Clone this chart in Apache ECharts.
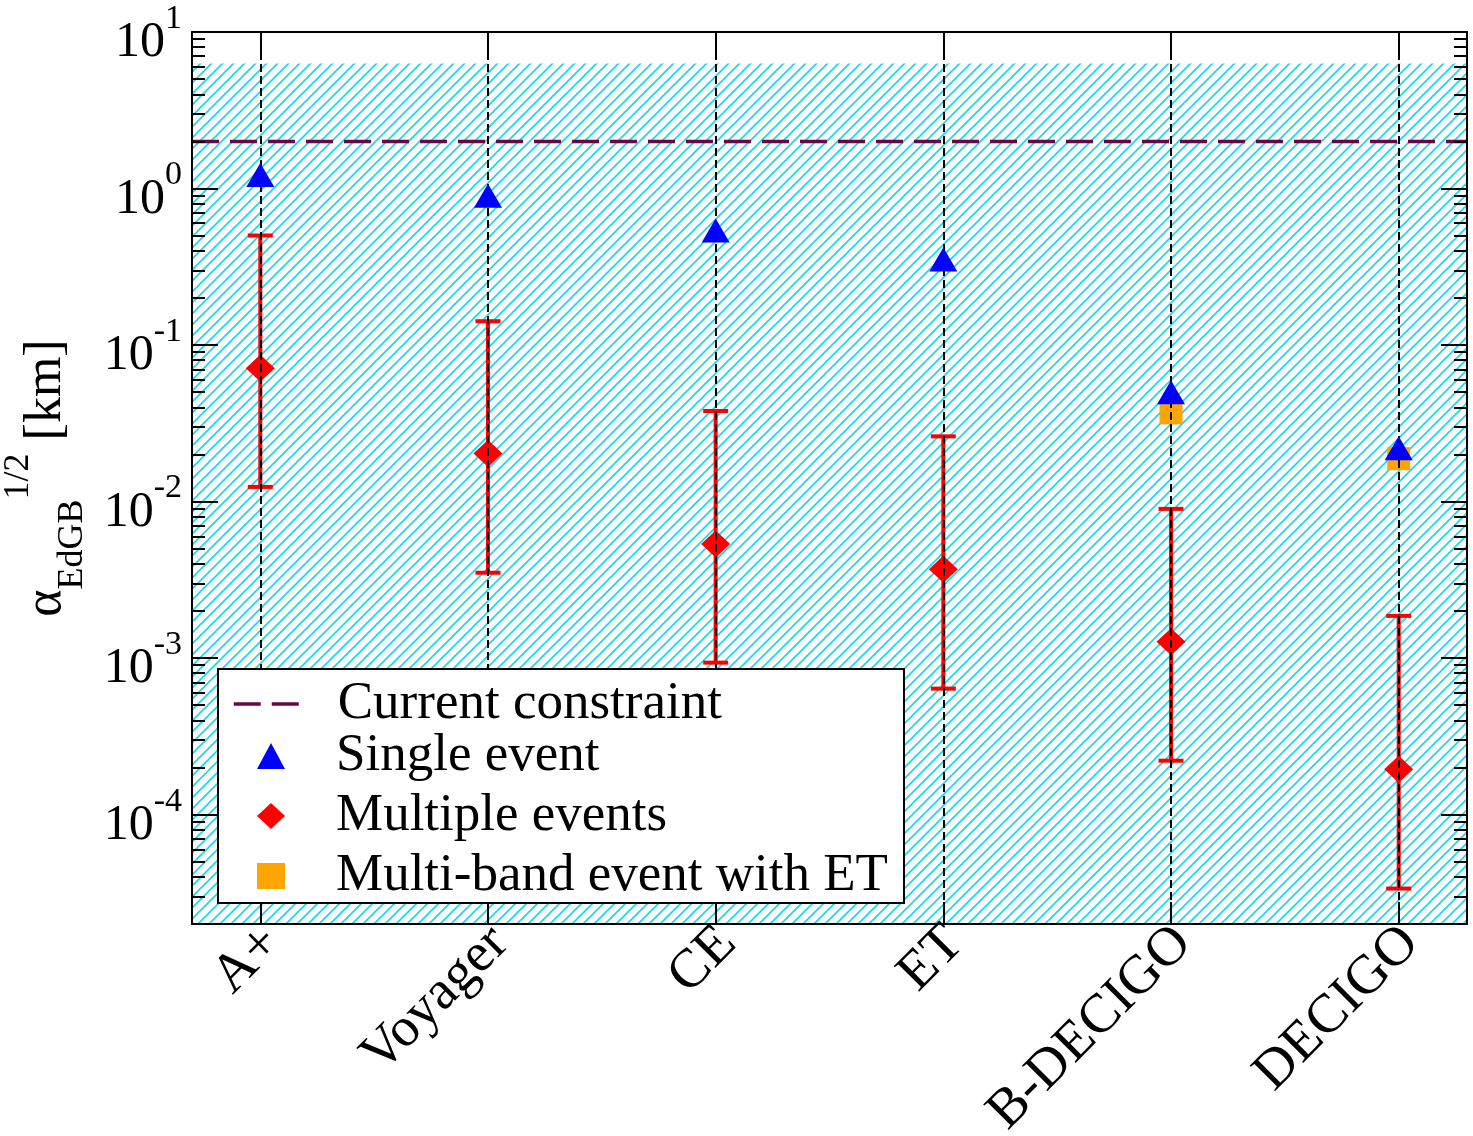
<!DOCTYPE html>
<html>
<head>
<meta charset="UTF-8">
<title>EdGB constraints</title>
<script src="https://cdn.jsdelivr.net/npm/echarts@6/dist/echarts.min.js"></script>
<style>
html, body { margin: 0; padding: 0; background: #fff; }
#chart { width: 1473px; height: 1136px; }
</style>
</head>
<body>
<div id="chart"></div>
<script>
// data
var detectors = ['A+', 'Voyager', 'CE', 'ET', 'B-DECIGO', 'DECIGO'];
var singleEvent = [1.22, 0.90, 0.54, 0.352, 0.0499, 0.0219];
var multiEvents = [0.0710, 0.0203, 0.00535, 0.00369, 0.00127, 0.000195];
var multiUpper = [0.501, 0.142, 0.0379, 0.0261, 0.00898, 0.00186];
var multiLower = [0.0124, 0.00351, 0.000935, 0.000638, 0.000221, 0.0000337];
var multiBandIdx = [4, 5];
var multiBand = [0.0369, 0.0188];
var currentConstraint = 2.0;
var hatchTop = 6.3;

var yMin = 2e-5, yMax = 10;
var xMin = -0.3, xMax = 5.3;
var catTicks = [0, 1, 2, 3, 4, 5];
var majorTicks = [1e-4, 1e-3, 1e-2, 1e-1, 1, 10];
var minorTicks = [];
for (var e = -5; e <= 0; e++) {
	for (var m = 2; m <= 9; m++) {
		var v = Number((m * Math.pow(10, e)).toPrecision(3));
		if (v >= yMin && v <= yMax) minorTicks.push(v);
	}
}

var serif = '"Liberation Serif", "DejaVu Serif", serif';
var maroon = '#670748';

function makeHatch() {
	var s = 11;
	var c = document.createElement('canvas');
	c.width = s; c.height = s;
	var g = c.getContext('2d');
	g.fillStyle = '#f9fcfc';
	g.fillRect(0, 0, s, s);
	g.strokeStyle = '#1fd6e8';
	g.lineWidth = 1.6;
	g.beginPath();
	g.moveTo(-1, s + 1); g.lineTo(s + 1, -1);
	g.moveTo(-1, 1); g.lineTo(1, -1);
	g.moveTo(s - 1, s + 1); g.lineTo(s + 1, s - 1);
	g.stroke();
	return c;
}

function pairs(xs, ys) {
	return ys.map(function (y, i) { return [xs[i], y]; });
}

var idx = detectors.map(function (d, i) { return i; });
var errData = idx.map(function (i) { return [i, multiLower[i], multiUpper[i]]; });

function yAxisCfg(pos, ticks, len, withLabel, withLine) {
	var cfg = {
		type: 'log', logBase: 10, min: yMin, max: yMax, position: pos, z: 10,
		axisLine: { show: withLine, onZero: false, lineStyle: { color: '#000', width: 2 } },
		axisTick: { show: true, inside: true, length: len, customValues: ticks, lineStyle: { color: '#000', width: 2 } },
		minorTick: { show: false },
		splitLine: { show: false },
		axisLabel: { show: false }
	};
	if (withLabel) {
		cfg.axisLabel = {
			show: true, customValues: majorTicks, margin: 10,
			formatter: function (val) {
				return '{b|10}{e|' + Math.round(Math.log10(val)) + '}';
			},
			rich: {
				b: { fontFamily: serif, fontSize: 50, color: '#000', lineHeight: 50, verticalAlign: 'middle', padding: [22, 0, 0, 0] },
				e: { fontFamily: serif, fontSize: 34, color: '#000', lineHeight: 34, verticalAlign: 'middle', padding: [0, 0, 26, 0] }
			}
		};
		cfg.name = '{a|α}{s|EdGB}{p|1/2}{k| [km]}';
		cfg.nameLocation = 'middle';
		cfg.nameRotate = 90;
		cfg.nameGap = 101;
		cfg.nameMoveOverlap = false;
		cfg.nameTextStyle = {
			rich: {
				a: { fontFamily: serif, fontSize: 52, color: '#000', lineHeight: 90, verticalAlign: 'middle' },
				s: { fontFamily: serif, fontSize: 36, color: '#000', lineHeight: 36, verticalAlign: 'bottom' },
				p: { fontFamily: serif, fontSize: 36, color: '#000', lineHeight: 36, verticalAlign: 'top' },
				k: { fontFamily: serif, fontSize: 52, color: '#000', lineHeight: 52, verticalAlign: 'middle' }
			}
		};
	}
	return cfg;
}

function xAxisCfg(pos, withLabel) {
	return {
		type: 'value', min: xMin, max: xMax, position: pos, z: 10,
		axisLine: { show: true, onZero: false, lineStyle: { color: '#000', width: 2 } },
		axisTick: { show: true, inside: true, length: 22, customValues: catTicks, lineStyle: { color: '#000', width: 2 } },
		splitLine: { show: false },
		axisLabel: withLabel ? {
			show: true, customValues: catTicks, rotate: 45, margin: -1,
			formatter: function (val) { return '{n|' + detectors[Math.round(val)] + '}'; },
			rich: {
				n: { fontFamily: serif, fontSize: 55, color: '#000', lineHeight: 55, padding: [34, 0, 0, 0] }
			}
		} : { show: false }
	};
}

var legendText = { fontFamily: serif, fontSize: 53, color: '#000', lineHeight: 54 };

var chart = echarts.init(document.getElementById('chart'), null, { renderer: 'canvas' });
var option = {
	animation: false,
	backgroundColor: '#fff',
	grid: { left: 192, right: 6, top: 32, bottom: 212, show: false, outerBoundsMode: 'none' },
	graphic: [{
		type: 'rect', z: 15, silent: true,
		shape: { x: 218, y: 669, width: 686, height: 234 },
		style: { fill: '#fff', stroke: '#000', lineWidth: 2 }
	}],
	legend: [
		{
			orient: 'vertical', left: 218, top: 669, z: 20,
			padding: [8, 14, 2, 14], itemWidth: 66, itemHeight: 26,
			textStyle: Object.assign({ padding: [0, 0, 0, 33] }, legendText),
			data: [
				{ name: 'Current constraint', itemStyle: { opacity: 0 },
					lineStyle: { color: maroon, width: 3.5, type: [27, 11] } }
			],
			selectedMode: false
		},
		{
			orient: 'vertical', left: 257, top: 729, z: 20,
			padding: 0, itemGap: 6, itemWidth: 28, itemHeight: 26,
			textStyle: Object.assign({ padding: [0, 0, 0, 46] }, legendText),
			data: ['Single event', 'Multiple events', 'Multi-band event with ET'],
			selectedMode: false
		}
	],
	xAxis: [xAxisCfg('bottom', true), xAxisCfg('top', false)],
	yAxis: [
		yAxisCfg('left', majorTicks, 26, true, true),
		yAxisCfg('left', minorTicks, 13, false, false),
		yAxisCfg('right', majorTicks, 26, false, true),
		yAxisCfg('right', minorTicks, 13, false, false)
	],
	series: [
		{
			name: 'hatch', type: 'line', data: [], z: 1, silent: true,
			markArea: {
				silent: true,
				itemStyle: { color: { image: makeHatch(), repeat: 'repeat' } },
				data: [[{ yAxis: yMin }, { yAxis: hatchTop }]]
			}
		},
		{
			name: 'guides', type: 'line', data: [], z: 2, silent: true,
			markLine: {
				silent: true, symbol: ['none', 'none'], label: { show: false },
				lineStyle: { color: '#000', type: [8, 4], width: 2 },
				data: idx.map(function (i) { return { xAxis: i }; })
			}
		},
		{
			name: 'Current constraint', type: 'line', z: 3, symbol: 'none',
			data: [[xMin, currentConstraint], [xMax, currentConstraint]],
			itemStyle: { color: maroon },
			lineStyle: { color: maroon, width: 3.5, type: [27, 11] }
		},
		{
			name: 'errors', type: 'custom', z: 3, data: errData,
			encode: { x: 0, y: [1, 2] },
			renderItem: function (params, api) {
				var x = api.value(0);
				var lo = api.coord([x, api.value(1)]);
				var hi = api.coord([x, api.value(2)]);
				var hw = 12.5;
				var st = { stroke: '#ff0000', lineWidth: 4 };
				return {
					type: 'group', children: [
						{ type: 'line', shape: { x1: hi[0], y1: hi[1], x2: lo[0], y2: lo[1] }, style: st },
						{ type: 'line', shape: { x1: hi[0] - hw, y1: hi[1], x2: hi[0] + hw, y2: hi[1] }, style: st },
						{ type: 'line', shape: { x1: lo[0] - hw, y1: lo[1], x2: lo[0] + hw, y2: lo[1] }, style: st }
					]
				};
			}
		},
		{
			name: 'Multiple events', type: 'scatter', z: 4,
			symbol: 'diamond', symbolSize: [29, 27],
			itemStyle: { color: '#ff0000', opacity: 1 },
			data: pairs(idx, multiEvents)
		},
		{
			name: 'Multi-band event with ET', type: 'scatter', z: 4,
			symbol: 'rect', symbolSize: [23, 23],
			itemStyle: { color: '#ffa500', opacity: 1 },
			data: pairs(multiBandIdx, multiBand)
		},
		{
			name: 'Single event', type: 'scatter', z: 5,
			symbol: 'triangle', symbolSize: [28, 24],
			itemStyle: { color: '#0000ff', opacity: 1 },
			data: pairs(idx, singleEvent)
		}
	]
};
chart.setOption(option);
</script>
</body>
</html>
